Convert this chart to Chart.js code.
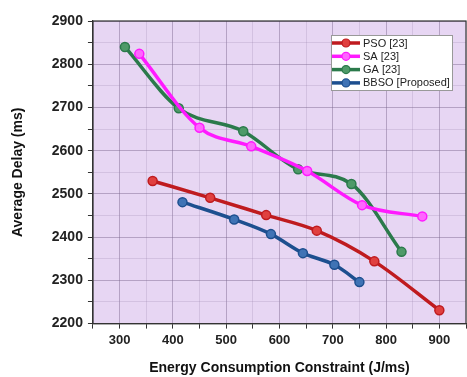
<!DOCTYPE html>
<html>
<head>
<meta charset="utf-8">
<script src="https://cdn.jsdelivr.net/npm/chart.js@4"></script>
<style>
  body { margin: 0; background: #fff; overflow: hidden; }
  #wrap { width: 472px; height: 377px; }
</style>
</head>
<body>
<div id="wrap"><canvas id="delayChart" width="472" height="377"></canvas></div>
<script>
// values
const seriesNames = ['PSO [23]', 'SA [23]', 'GA [23]', 'BBSO [Proposed]'];
const psoX = [362, 470, 575, 670, 778, 900];
const psoY = [2530, 2491, 2451, 2415, 2344, 2231];
const saX = [337, 450, 547, 652, 755, 868];
const saY = [2824, 2653, 2610, 2553, 2474, 2448];
const gaX = [310, 411, 532, 635, 735, 829];
const gaY = [2840, 2698, 2645, 2557, 2523, 2366];
const bbsoX = [418, 515, 584, 644, 703, 750];
const bbsoY = [2481, 2441, 2407, 2363, 2336, 2296];

const lineColors = ['#bf1b1f', '#ff1aff', '#2b7a4b', '#1d4f8f'];
const dotColors = ['#e0403f', '#ff66ff', '#4e9a68', '#3f73b5'];

function pts(xs, ys) {
    return xs.map((x, i) => ({ x: x, y: ys[i] }));
}

const allData = [pts(psoX, psoY), pts(saX, saY), pts(gaX, gaY), pts(bbsoX, bbsoY)];

// purple plot background + frame
const plotBg = {
    id: 'plotBg',
    beforeDraw(chart) {
        const a = chart.chartArea, ctx = chart.ctx;
        ctx.save();
        ctx.fillStyle = '#e7d6f3';
        ctx.fillRect(a.left, a.top, a.right - a.left, a.bottom - a.top);
        ctx.restore();
    },
    afterDatasetsDraw(chart) {
        const a = chart.chartArea, ctx = chart.ctx;
        ctx.save();
        ctx.strokeStyle = '#333';
        ctx.lineWidth = 1.2;
        ctx.strokeRect(a.left, a.top, a.right - a.left, a.bottom - a.top);
        ctx.restore();
    }
};

// legend box inside the plot (top right)
const boxLegend = {
    id: 'boxLegend',
    afterDraw(chart) {
        const ctx = chart.ctx;
        const bx = 331, by = 35, bw = 121, bh = 55;
        ctx.save();
        ctx.fillStyle = '#fff';
        ctx.strokeStyle = '#999';
        ctx.lineWidth = 1;
        ctx.fillRect(bx, by, bw, bh);
        ctx.strokeRect(bx + 0.5, by + 0.5, bw, bh);
        ctx.font = '11px "Liberation Sans", Arial, sans-serif';
        ctx.textBaseline = 'middle';
        chart.data.datasets.forEach((ds, i) => {
            const y = by + 8 + i * 13.3;
            ctx.strokeStyle = ds.borderColor;
            ctx.lineWidth = 3.5;
            ctx.beginPath();
            ctx.moveTo(bx + 1, y);
            ctx.lineTo(bx + 29, y);
            ctx.stroke();
            ctx.fillStyle = ds.pointBackgroundColor;
            ctx.strokeStyle = ds.borderColor;
            ctx.lineWidth = 1.2;
            ctx.beginPath();
            ctx.arc(bx + 15, y, 4, 0, Math.PI * 2);
            ctx.fill();
            ctx.stroke();
            ctx.fillStyle = '#222';
            ctx.fillText(ds.label, bx + 32, y + 0.5);
        });
        ctx.restore();
    }
};

const tickFont = { family: '"Liberation Sans", Arial, sans-serif', size: 14, weight: 'bold' };
const titleFont = { family: '"Liberation Sans", Arial, sans-serif', size: 14, weight: 'bold' };

new Chart(document.getElementById('delayChart').getContext('2d'), {
    type: 'line',
    data: {
        datasets: seriesNames.map((name, i) => ({
            label: name,
            data: allData[i],
            borderColor: lineColors[i],
            backgroundColor: lineColors[i],
            pointBackgroundColor: dotColors[i],
            pointBorderColor: lineColors[i],
            pointBorderWidth: 1.5,
            pointRadius: 4.5,
            borderWidth: 3.5,
            cubicInterpolationMode: 'monotone',
            fill: false
        }))
    },
    options: {
        responsive: false,
        animation: false,
        layout: { padding: { top: 21, right: 1, left: 10 } },
        plugins: {
            legend: { display: false },
            tooltip: { enabled: false }
        },
        scales: {
            x: {
                type: 'linear',
                min: 250,
                max: 950,
                border: { color: '#333', width: 1.2 },
                grid: {
                    color: c => (c.tick.value % 100 === 0 ? 'rgba(120,100,140,0.45)' : 'rgba(150,130,170,0.25)'),
                    tickColor: '#333',
                    tickLength: 5
                },
                ticks: {
                    stepSize: 50,
                    autoSkip: false,
                    maxRotation: 0,
                    color: '#222',
                    font: { family: tickFont.family, size: 13, weight: 'bold' },
                    padding: 4,
                    callback: v => (v % 100 === 0 ? v : '')
                },
                title: {
                    display: true,
                    text: 'Energy Consumption Constraint (J/ms)',
                    color: '#111',
                    font: titleFont,
                    padding: { top: 8, bottom: 0 }
                }
            },
            y: {
                min: 2200,
                max: 2900,
                border: { color: '#333', width: 1.2 },
                grid: {
                    color: c => (c.tick.value % 100 === 0 ? 'rgba(120,100,140,0.45)' : 'rgba(150,130,170,0.25)'),
                    tickColor: '#333',
                    tickLength: 5
                },
                ticks: {
                    stepSize: 50,
                    autoSkip: false,
                    color: '#222',
                    font: tickFont,
                    padding: 5,
                    callback: v => (v % 100 === 0 ? v : '')
                },
                title: {
                    display: true,
                    text: 'Average Delay (ms)',
                    color: '#111',
                    font: titleFont,
                    padding: { top: 0, bottom: 20 }
                }
            }
        }
    },
    plugins: [plotBg, boxLegend]
});
</script>
</body>
</html>
